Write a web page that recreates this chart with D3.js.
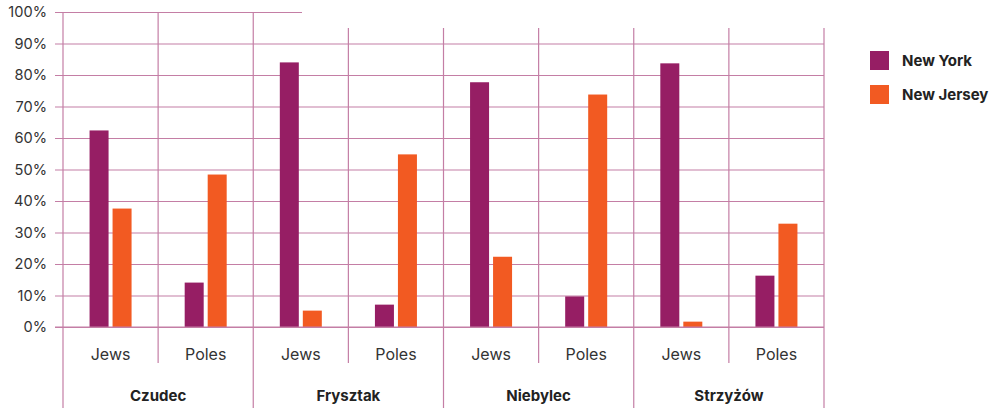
<!DOCTYPE html>
<html>
<head>
<meta charset="utf-8">
<script src="https://cdn.jsdelivr.net/npm/d3@7"></script>
<style>
  html, body { margin: 0; padding: 0; background: #fff; }
  svg { display: block; font-family: "Inter", "Roboto", sans-serif; }
</style>
</head>
<body>
<svg id="chart" width="992" height="408"></svg>
<script>
// Towns, the two groups compared in each town, and share of emigrants by destination.
const towns = ["Czudec", "Frysztak", "Niebylec", "Strzyżów"];
const groups = ["Jews", "Poles"];
const seriesNames = ["New York", "New Jersey"];
const newYork =   [62.4, 14.1, 84.0, 7.1, 77.7, 9.7, 83.7, 16.3];
const newJersey = [37.6, 48.4, 5.2, 54.8, 22.3, 73.8, 1.7, 32.8];
const yTicks = [0, 10, 20, 30, 40, 50, 60, 70, 80, 90, 100];
const colors = ["#961e64", "#f25a22"];

const svg = d3.select("#chart");
const plotLeft = 63, plotRight = 824, plotTop = 12, plotBottom = 327;
const gridColor = "#c47ea5";

const cells = [];
towns.forEach((t, i) => groups.forEach((g, j) => {
  const k = i * groups.length + j;
  cells.push({ key: t + "|" + g, town: t, group: g, values: [newYork[k], newJersey[k]] });
}));

const x0 = d3.scaleBand().domain(cells.map(d => d.key)).range([plotLeft, plotRight]);
const xTown = d3.scaleBand().domain(towns).range([plotLeft, plotRight]);
const x1 = d3.scaleBand().domain(seriesNames).range([0, 42]).paddingInner(4 / 23);
const y = d3.scaleLinear().domain([0, 100]).range([plotBottom, plotTop]);

// horizontal grid with left ticks
const yAxis = d3.axisLeft(y).tickValues(yTicks).tickFormat(d => d + "%")
  .tickSize(0).tickPadding(8);
const gy = svg.append("g").attr("transform", `translate(${plotLeft - 8},0)`).call(yAxis);
gy.select(".domain").remove();
gy.selectAll(".tick line").attr("x1", 0).attr("x2", plotRight - plotLeft + 8)
  .attr("stroke", gridColor).attr("stroke-width", 1.2);
gy.selectAll(".tick text").attr("fill", "#333")
  .style("font-size", "14.6px").style("font-family", "Inter, sans-serif");

// vertical separators between the Jews/Poles columns
svg.append("g").selectAll("line").data(cells.filter(d => d.group === "Poles"))
  .join("line")
  .attr("x1", d => x0(d.key)).attr("x2", d => x0(d.key))
  .attr("y1", plotTop).attr("y2", 363)
  .attr("stroke", gridColor).attr("stroke-width", 1.2);

// vertical separators between towns, running down through the town labels
svg.append("g").selectAll("line").data(towns.concat(["end"]))
  .join("line")
  .attr("x1", d => d === "end" ? plotRight : xTown(d))
  .attr("x2", d => d === "end" ? plotRight : xTown(d))
  .attr("y1", plotTop).attr("y2", 408)
  .attr("stroke", gridColor).attr("stroke-width", 1.2);

// bars
const gBars = svg.append("g");
cells.forEach(c => {
  const off = x0(c.key) + (x0.bandwidth() - 42) / 2;
  gBars.selectAll(null).data(c.values).join("rect")
    .attr("x", (v, i) => off + x1(seriesNames[i]))
    .attr("width", x1.bandwidth())
    .attr("y", v => y(v))
    .attr("height", v => y(0) - y(v))
    .attr("fill", (v, i) => colors[i]);
});

// baseline redrawn over the bars
svg.append("line").attr("x1", plotLeft - 8).attr("x2", plotRight)
  .attr("y1", y(0)).attr("y2", y(0)).attr("stroke", gridColor).attr("stroke-width", 1.2);

// group labels
svg.append("g").selectAll("text").data(cells).join("text")
  .attr("x", d => x0(d.key) + x0.bandwidth() / 2)
  .attr("y", 360)
  .attr("text-anchor", "middle")
  .attr("fill", "#333")
  .style("font-size", "16px")
  .text(d => d.group);

// town labels
svg.append("g").selectAll("text").data(towns).join("text")
  .attr("x", d => xTown(d) + xTown.bandwidth() / 2)
  .attr("y", 401)
  .attr("text-anchor", "middle")
  .attr("fill", "#222")
  .style("font-size", "15px")
  .style("font-weight", "700")
  .text(d => d);

// title band across the top
svg.append("rect").attr("x", 302).attr("y", 0).attr("width", 690).attr("height", 28)
  .attr("fill", "#fff");

// legend
const lg = svg.append("g").selectAll("g").data(seriesNames).join("g")
  .attr("transform", (d, i) => `translate(870,${51 + i * 34})`);
lg.append("rect").attr("width", 19).attr("height", 19).attr("fill", (d, i) => colors[i]);
lg.append("text").attr("x", 32).attr("y", 15)
  .attr("fill", "#222").style("font-size", "15px").style("font-weight", "700")
  .text(d => d);
</script>
</body>
</html>
